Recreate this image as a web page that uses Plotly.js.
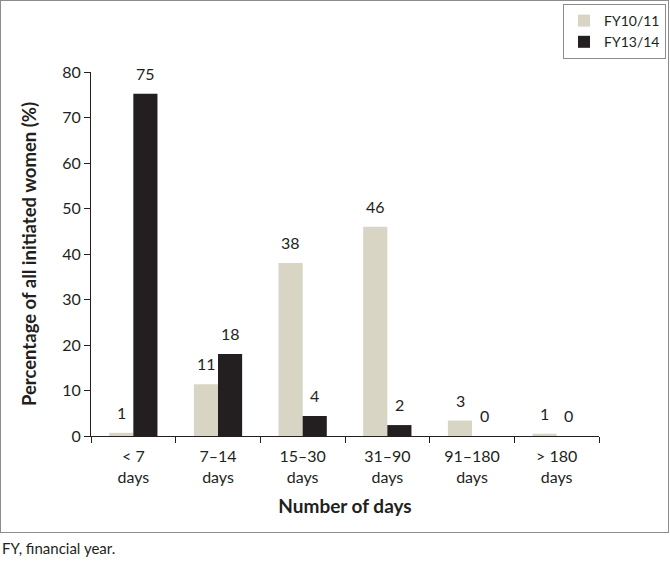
<!DOCTYPE html>
<html>
<head>
<meta charset="utf-8">
<script src="https://cdn.plot.ly/plotly-3.0.1.min.js"></script>
<style>
html,body{margin:0;padding:0;background:#fff;}
#wrap{position:relative;width:670px;height:561px;}
#chart{width:670px;height:561px;}
#frame{position:absolute;left:0;top:0;width:667px;height:531px;border:1px solid #8c8c8c;pointer-events:none;}
</style>
</head>
<body>
<div id="wrap"><div id="chart"></div><div id="frame"></div></div>
<script>
const categories = ["<7", "7-14", "15-30", "31-90", "91-180", ">180"];
const tickLabels = ["&lt; 7<br>days", "7–14<br>days", "15–30<br>days", "31–90<br>days", "91–180<br>days", "&gt; 180<br>days"];
const seriesNames = ["FY10/11", "FY13/14"];
const fy1011 = [0.7, 11.4, 38, 46, 3.4, 0.5];
const fy1314 = [75.2, 18, 4.4, 2.4, 0, 0];
const fy1011Labels = ["1", "11", "38", "46", "3", "1"];
const fy1314Labels = ["75", "18", "4", "2", "0", "0"];

const FONT = "Lato, 'Open Sans', sans-serif";
const colors = ["#d9d5c5", "#231f20"];

const traces = [
  {type: "bar", name: seriesNames[0], x: categories, y: fy1011, marker: {color: colors[0]}, hoverinfo: "none"},
  {type: "bar", name: seriesNames[1], x: categories, y: fy1314, marker: {color: colors[1]}, hoverinfo: "none"}
];

const annotations = [];
[[fy1011, fy1011Labels, -12], [fy1314, fy1314Labels, 12]].forEach(([vals, labs, shift]) => {
  vals.forEach((v, i) => {
    annotations.push({x: categories[i], y: v, text: labs[i], xref: "x", yref: "y",
      showarrow: false, xshift: shift, yshift: 9, yanchor: "bottom",
      font: {family: FONT, size: 16, color: "#231f20"}});
  });
});
annotations.push({x: -91 / 508, y: (436 - 548) / 364, xref: "paper", yref: "paper", xanchor: "left", yanchor: "middle",
  text: "FY, financial year.", showarrow: false, font: {family: FONT, size: 15, color: "#231f20"}});

const layout = {
  width: 670, height: 561,
  margin: {l: 91, r: 71, t: 72, b: 125, autoexpand: false},
  paper_bgcolor: "#fff", plot_bgcolor: "#fff",
  font: {family: FONT, color: "#231f20"},
  barmode: "group", bargap: 0.43, bargroupgap: 0,
  showlegend: true,
  legend: {xref: "container", yref: "container", x: 666 / 670, y: 1 - 4 / 561, xanchor: "right", yanchor: "top",
    bordercolor: "#8c8c8c", borderwidth: 1,
    font: {family: FONT, size: 14, color: "#231f20"}, bgcolor: "#fff", tracegroupgap: 2},
  xaxis: {
    type: "category", tickvals: categories, ticktext: tickLabels, tickson: "boundaries",
    showline: true, linecolor: "#231f20", linewidth: 1, ticks: "outside", ticklen: 6, tickcolor: "#231f20",
    showgrid: false, zeroline: false, ticklabelstandoff: 6,
    tickfont: {family: FONT, size: 16, color: "#231f20"},
    title: {text: "<b>Number of days</b>", font: {family: FONT, size: 19, color: "#231f20"}, standoff: 14}
  },
  yaxis: {
    range: [0, 80], dtick: 10, showline: true, linecolor: "#231f20", linewidth: 1,
    ticks: "outside", ticklen: 6, tickcolor: "#231f20", showgrid: false, zeroline: false,
    tickfont: {family: FONT, size: 16, color: "#231f20"},
    title: {text: "<b>Percentage of all initiated women (%)</b>", font: {family: FONT, size: 18.5, color: "#231f20"}, standoff: 20}
  },
  annotations: annotations
};

Plotly.newPlot("chart", traces, layout, {staticPlot: true, displayModeBar: false});
</script>
</body>
</html>
